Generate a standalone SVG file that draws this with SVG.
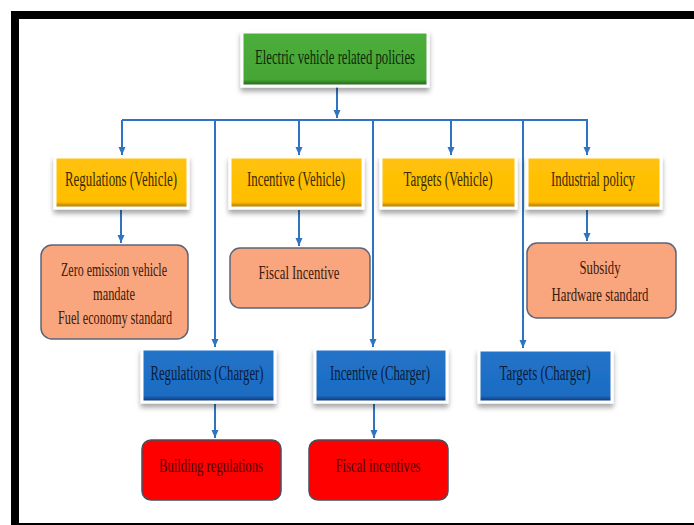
<svg xmlns="http://www.w3.org/2000/svg" width="694" height="525" viewBox="0 0 694 525">
<defs>
<linearGradient id="gGreen" x1="0" y1="0" x2="0" y2="1">
<stop offset="0" stop-color="#4DAE3B"/><stop offset="0.88" stop-color="#45A535"/><stop offset="0.94" stop-color="#2F7D22"/><stop offset="1" stop-color="#24631A"/>
</linearGradient>
<linearGradient id="gYellow" x1="0" y1="0" x2="0" y2="1">
<stop offset="0" stop-color="#FFC20A"/><stop offset="0.88" stop-color="#FFBE00"/><stop offset="0.94" stop-color="#D09200"/><stop offset="1" stop-color="#9E6E00"/>
</linearGradient>
<linearGradient id="gBlue" x1="0" y1="0" x2="0" y2="1">
<stop offset="0" stop-color="#2374C9"/><stop offset="0.88" stop-color="#1C6CC2"/><stop offset="0.94" stop-color="#114C94"/><stop offset="1" stop-color="#0B3670"/>
</linearGradient>
<filter id="sh" x="-10%" y="-20%" width="120%" height="150%">
<feDropShadow dx="0" dy="4" stdDeviation="2.5" flood-color="#000" flood-opacity="0.35"/>
</filter>
<marker id="ah" markerUnits="userSpaceOnUse" markerWidth="8" markerHeight="8" refX="8" refY="4" orient="auto">
<path d="M0,0.5 L8,4 L0,7.5 z" fill="#2E74C0"/>
</marker>
<style>
.frame{fill:none;stroke:#000;stroke-width:8}
.bx{stroke:#fff;stroke-width:3;filter:url(#sh)}
.y{fill:url(#gYellow)}
.g{fill:url(#gGreen)}
.b{fill:url(#gBlue)}
.o{fill:#F9A67E;stroke:#5B6478;stroke-width:1.5}
.r{fill:#FF0000;stroke:#4A4F5C;stroke-width:1.5}
text{font-family:"Liberation Serif","Times New Roman",serif;text-anchor:middle}
.ty{font-size:20px;fill:#3A2A05}
.tg{font-size:21px;fill:#0E2A0A}
.tb{font-size:20px;fill:#0C1A3A}
.to{font-size:19px;fill:#3A1A0C}
.tr{font-size:19px;fill:#4A0505}
.c{stroke:#2E74C0;stroke-width:2;fill:none}
.ca{stroke:#2E74C0;stroke-width:2;fill:none;marker-end:url(#ah)}
</style>
</defs>
<rect width="694" height="525" fill="#fff"/>
<rect class="frame" x="15" y="15" width="700" height="512"/>

<g id="connectors">
<line class="ca" x1="337" y1="87" x2="337" y2="118"/>
<line class="c" x1="122" y1="120" x2="588" y2="120"/>
<line class="ca" x1="122" y1="120" x2="122" y2="155"/>
<line class="ca" x1="299" y1="120" x2="299" y2="155"/>
<line class="ca" x1="451" y1="120" x2="451" y2="155"/>
<line class="ca" x1="587" y1="120" x2="587" y2="155"/>
<line class="ca" x1="215" y1="120" x2="215" y2="347"/>
<line class="ca" x1="373" y1="120" x2="373" y2="347"/>
<line class="ca" x1="523" y1="120" x2="523" y2="348"/>
<line class="ca" x1="121" y1="210" x2="121" y2="243"/>
<line class="ca" x1="299" y1="210" x2="299" y2="246"/>
<line class="ca" x1="587" y1="210" x2="587" y2="241"/>
<line class="ca" x1="215" y1="404" x2="215" y2="438"/>
<line class="ca" x1="374" y1="404" x2="374" y2="438"/>
</g>

<g id="root">
<rect class="bx g" x="242" y="32" width="186" height="54"/>
<text class="tg" x="335" y="64" textLength="160" lengthAdjust="spacingAndGlyphs">Electric vehicle related policies</text>
</g>

<g id="reg-vehicle">
<rect class="bx y" x="55" y="157" width="133" height="51"/>
<text class="ty" x="121" y="186" textLength="112" lengthAdjust="spacingAndGlyphs">Regulations (Vehicle)</text>
</g>
<g id="inc-vehicle">
<rect class="bx y" x="230" y="157" width="133" height="51"/>
<text class="ty" x="296" y="186" textLength="98" lengthAdjust="spacingAndGlyphs">Incentive (Vehicle)</text>
</g>
<g id="tgt-vehicle">
<rect class="bx y" x="381" y="157" width="135" height="51"/>
<text class="ty" x="448" y="186" textLength="89" lengthAdjust="spacingAndGlyphs">Targets (Vehicle)</text>
</g>
<g id="industrial">
<rect class="bx y" x="527" y="157" width="134" height="51"/>
<text class="ty" x="593" y="186" textLength="84" lengthAdjust="spacingAndGlyphs">Industrial policy</text>
</g>

<g id="zev">
<rect class="o" x="41" y="245" width="147" height="94" rx="11"/>
<text class="to" x="114" y="276" textLength="106" lengthAdjust="spacingAndGlyphs">Zero emission vehicle</text>
<text class="to" x="114" y="300" textLength="42" lengthAdjust="spacingAndGlyphs">mandate</text>
<text class="to" x="115" y="324" textLength="114" lengthAdjust="spacingAndGlyphs">Fuel economy standard</text>
</g>
<g id="fiscal-incentive">
<rect class="o" x="230" y="248" width="140" height="60" rx="10"/>
<text class="to" x="299" y="279" textLength="81" lengthAdjust="spacingAndGlyphs">Fiscal Incentive</text>
</g>
<g id="subsidy">
<rect class="o" x="527" y="243" width="149" height="75" rx="10"/>
<text class="to" x="600" y="274" textLength="41" lengthAdjust="spacingAndGlyphs">Subsidy</text>
<text class="to" x="600" y="301" textLength="97" lengthAdjust="spacingAndGlyphs">Hardware standard</text>
</g>

<g id="reg-charger">
<rect class="bx b" x="142" y="349" width="133" height="53"/>
<text class="tb" x="207" y="380" textLength="113" lengthAdjust="spacingAndGlyphs">Regulations (Charger)</text>
</g>
<g id="inc-charger">
<rect class="bx b" x="315" y="349" width="132" height="53"/>
<text class="tb" x="380" y="380" textLength="100" lengthAdjust="spacingAndGlyphs">Incentive (Charger)</text>
</g>
<g id="tgt-charger">
<rect class="bx b" x="479" y="350" width="133" height="52"/>
<text class="tb" x="545" y="380" textLength="91" lengthAdjust="spacingAndGlyphs">Targets (Charger)</text>
</g>

<g id="building">
<rect class="r" x="142" y="440" width="139" height="60" rx="9"/>
<text class="tr" x="211" y="472" textLength="104" lengthAdjust="spacingAndGlyphs">Building regulations</text>
</g>
<g id="fiscal-incentives">
<rect class="r" x="309" y="440" width="139" height="60" rx="9"/>
<text class="tr" x="378" y="472" textLength="85" lengthAdjust="spacingAndGlyphs">Fiscal incentives</text>
</g>
</svg>
